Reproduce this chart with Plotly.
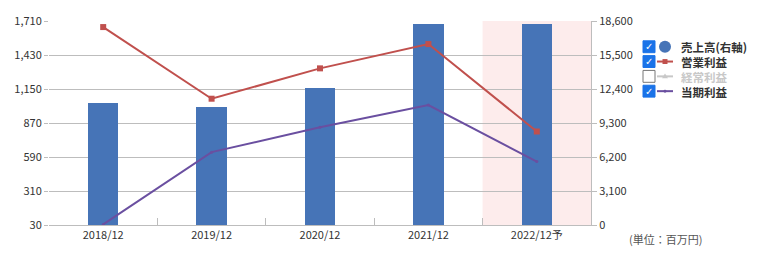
import plotly.graph_objects as go

categories = ["2018/12", "2019/12", "2020/12", "2021/12", "2022/12予"]
sales = [11100, 10800, 12500, 18300, 18300]          # 売上高 (右軸)
operating_profit = [1660, 1070, 1320, 1520, 800]      # 営業利益
net_profit = [35, 630, 835, 1018, 552]                # 当期利益
left_ticks = [30, 310, 590, 870, 1150, 1430, 1710]
right_ticks = [0, 3100, 6200, 9300, 12400, 15500, 18600]

FONT = "Noto Sans CJK JP"
GRID = "#bdbdbd"

W, H = 757, 256
ML, MR, MT, MB = 49, 166, 19, 31
PW, PH = W - ML - MR, H - MT - MB


def px(x):
    return (x - ML) / PW


def py(y):
    return (H - MB - y) / PH


fig = go.Figure()
# bars on the primary (right-side) axis so that the profit lines are drawn on top
fig.add_trace(go.Bar(x=categories, y=sales, name="売上高(右軸)", yaxis="y",
                     marker=dict(color="#4674b7", line=dict(width=0)), width=0.28,
                     showlegend=False))
fig.add_trace(go.Scatter(x=categories, y=operating_profit, name="営業利益", mode="lines+markers",
                         yaxis="y2",
                         line=dict(color="#c0504d", width=2),
                         marker=dict(symbol="square", size=6, color="#c0504d"),
                         showlegend=False))
fig.add_trace(go.Scatter(x=categories, y=net_profit, name="当期利益", mode="lines+markers",
                         yaxis="y2",
                         line=dict(color="#6a4fa0", width=2),
                         marker=dict(symbol="circle", size=3, color="#6a4fa0"),
                         showlegend=False))

shapes = [
    dict(type="rect", xref="x", yref="paper", x0=3.5, x1=4.5, y0=0, y1=1,
         fillcolor="#fdecec", line=dict(width=0), layer="below"),
]
annotations = [
    dict(text="(単位：百万円)", xref="paper", yref="paper", x=px(665), y=py(239),
         showarrow=False, font=dict(family=FONT, size=11, color="#555"), xanchor="center", yanchor="middle"),
]

LEG_FS = 11.5
STEP = LEG_FS * 1.3
Y0 = 45
legend_items = [
    ("売上高(右軸)", "circle", "#4674b7", True),
    ("営業利益", "line_sq", "#c0504d", True),
    ("経常利益", "line_tri", "#c8c8c8", False),
    ("当期利益", "line", "#6a4fa0", True),
]
lines = []
for i, (label, sym, color, checked) in enumerate(legend_items):
    yc = Y0 + i * STEP
    shapes.append(dict(type="rect", xref="paper", yref="paper",
                       x0=px(643), x1=px(655), y0=py(yc + 6), y1=py(yc - 6),
                       fillcolor="#1a73e8" if checked else "white",
                       line=dict(color="#1a73e8" if checked else "#777", width=1)))
    if checked:
        annotations.append(dict(text="✓", xref="paper", yref="paper", x=px(649), y=py(yc),
                                showarrow=False, font=dict(family="DejaVu Sans", size=10, color="white"),
                                xanchor="center", yanchor="middle"))
    if sym == "circle":
        shapes.append(dict(type="circle", xref="paper", yref="paper",
                           x0=px(659), x1=px(671), y0=py(yc + 6), y1=py(yc - 6),
                           fillcolor=color, line=dict(width=0)))
    else:
        shapes.append(dict(type="line", xref="paper", yref="paper",
                           x0=px(657), x1=px(673), y0=py(yc), y1=py(yc),
                           line=dict(color=color, width=2)))
        if sym == "line_sq":
            shapes.append(dict(type="rect", xref="paper", yref="paper",
                               x0=px(662.5), x1=px(667.5), y0=py(yc + 2.5), y1=py(yc - 2.5),
                               fillcolor=color, line=dict(width=0)))
        elif sym == "line_tri":
            shapes.append(dict(type="path", xref="paper", yref="paper",
                               path=f"M {px(665)} {py(yc-3)} L {px(668)} {py(yc+2)} L {px(662)} {py(yc+2)} Z",
                               fillcolor=color, line=dict(width=0)))
        else:
            shapes.append(dict(type="circle", xref="paper", yref="paper",
                               x0=px(663.5), x1=px(666.5), y0=py(yc + 1.5), y1=py(yc - 1.5),
                               fillcolor=color, line=dict(width=0)))
    lines.append(f"<span style='color:{'#333' if checked else '#c8c8c8'}'><b>{label}</b></span>")

annotations.append(dict(text="<br>".join(lines), xref="paper", yref="paper",
                        x=px(679), y=py(Y0 - STEP / 2 - 2), showarrow=False,
                        xanchor="left", yanchor="top", align="left",
                        font=dict(family=FONT, size=LEG_FS, color="#333")))

fig.update_layout(
    width=W, height=H,
    margin=dict(l=ML, r=MR, t=MT, b=MB, pad=0),
    paper_bgcolor="white", plot_bgcolor="white",
    font=dict(family=FONT, size=11, color="#333"),
    showlegend=False,
    bargap=0,
    xaxis=dict(type="category", tickson="boundaries", ticks="inside", ticklen=7, tickcolor=GRID,
               showline=True, linecolor=GRID, linewidth=1, showgrid=False,
               tickfont=dict(family=FONT, size=11, color="#333"), range=[-0.5, 4.5]),
    yaxis=dict(range=[0, 18600], tickvals=right_ticks, ticktext=[f"{v:,}" for v in right_ticks],
               side="right", showgrid=True, gridcolor=GRID, gridwidth=1, zeroline=False,
               showline=True, linecolor=GRID, linewidth=1, ticks="outside", ticklen=5, tickcolor=GRID,
               tickfont=dict(family=FONT, size=11, color="#333")),
    yaxis2=dict(range=[30, 1710], tickvals=left_ticks, ticktext=[f"{v:,}" for v in left_ticks],
                overlaying="y", side="left", showgrid=False, zeroline=False, showline=False,
                ticks="outside", ticklen=4, tickcolor=GRID,
                tickfont=dict(family=FONT, size=11, color="#333")),
    shapes=shapes,
    annotations=annotations,
)

fig.write_html("out.html")
